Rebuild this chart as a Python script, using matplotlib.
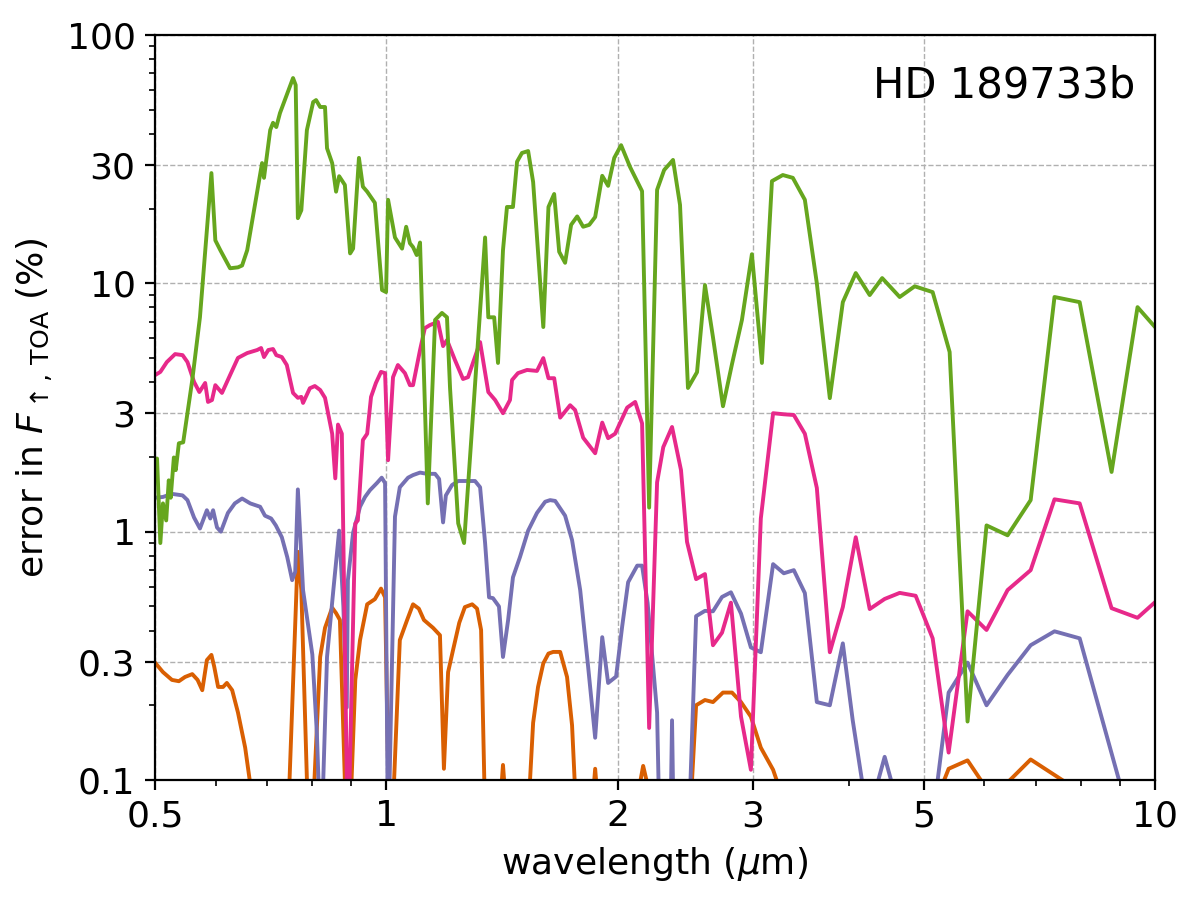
import matplotlib
matplotlib.use("Agg")
import matplotlib.pyplot as plt
from matplotlib.ticker import FixedLocator, FixedFormatter, LogLocator, NullFormatter

# wavelength (um) / error (%), values < 0.1 fall below the axis
green_x = [0.500, 0.503, 0.508, 0.512, 0.517, 0.521, 0.524, 0.529, 0.532, 0.537,
           0.544, 0.551, 0.559, 0.572, 0.592, 0.599, 0.608, 0.626, 0.641, 0.649,
           0.659, 0.689, 0.693, 0.706, 0.712, 0.719, 0.727, 0.756, 0.762, 0.767,
           0.775, 0.788, 0.803, 0.810, 0.820, 0.832, 0.837, 0.850, 0.860, 0.868,
           0.883, 0.897, 0.905, 0.921, 0.932, 0.944, 0.966, 0.987, 0.999, 1.005,
           1.026, 1.048, 1.061, 1.073, 1.083, 1.095, 1.106, 1.132, 1.157, 1.181,
           1.199, 1.210, 1.240, 1.262, 1.300, 1.344, 1.357, 1.381, 1.397, 1.418,
           1.435, 1.461, 1.479, 1.501, 1.529, 1.552, 1.600, 1.625, 1.653, 1.678,
           1.708, 1.739, 1.771, 1.803, 1.836, 1.869, 1.909, 1.943, 1.979, 2.020,
           2.075, 2.151, 2.197, 2.250, 2.298, 2.360, 2.410, 2.468, 2.536, 2.597,
           2.660, 2.741, 2.816, 2.901, 2.989, 3.080, 3.174, 3.279, 3.379, 3.503,
           3.631, 3.775, 3.925, 4.080, 4.254, 4.416, 4.654, 4.868, 5.137, 5.405,
           5.703, 6.037, 6.43, 6.89, 7.40, 7.98, 8.78, 9.49, 10.0]
green_y = [1.97, 1.97, 0.90, 1.30, 1.11, 1.61, 1.37, 1.99, 1.77, 2.27,
           2.29, 3.0, 4.08, 7.3, 27.8, 14.9, 13.6, 11.5, 11.6, 11.8,
           13.6, 30.5, 26.6, 41.4, 44.3, 42.6, 48.5, 67.1, 62.9, 18.3,
           19.7, 41.4, 53.7, 54.7, 51.3, 51.3, 35.0, 30.5, 23.4, 27.0,
           24.9, 13.2, 13.8, 32.0, 24.5, 23.4, 21.1, 9.40, 9.22, 21.7,
           15.3, 13.8, 16.9, 14.5, 14.0, 13.0, 14.6, 1.30, 7.12, 7.6,
           7.3, 3.79, 1.08, 0.90, 3.39, 15.3, 7.3, 7.3, 4.78, 13.6,
           20.3, 20.3, 30.9, 33.5, 34.1, 25.6, 6.67, 20.3, 22.9, 13.4,
           12.1, 17.2, 18.6, 16.9, 17.2, 18.5, 27.1, 24.7, 32.0, 36.0,
           29.4, 23.5, 1.25, 23.8, 28.6, 31.4, 20.7, 3.79, 4.39, 9.84,
           6.07, 3.20, 4.73, 7.12, 13.1, 4.78, 25.8, 27.3, 26.6, 21.7,
           10.0, 3.45, 8.40, 11.0, 8.97, 10.5, 8.81, 9.73, 9.22, 5.29,
           0.172, 1.06, 0.967, 1.34, 8.81, 8.40, 1.74, 8.02, 6.67]

pink_x = [0.500, 0.508, 0.518, 0.531, 0.543, 0.551, 0.562, 0.571, 0.581, 0.586,
          0.593, 0.599, 0.611, 0.626, 0.641, 0.659, 0.679, 0.687, 0.693, 0.702,
          0.712, 0.719, 0.731, 0.742, 0.756, 0.767, 0.775, 0.779, 0.795, 0.807,
          0.820, 0.832, 0.850, 0.858, 0.865, 0.875, 0.891, 0.911, 0.918, 0.932,
          0.944, 0.955, 0.969, 0.984, 0.996, 1.005, 1.020, 1.035, 1.057, 1.073,
          1.083, 1.106, 1.122, 1.139, 1.167, 1.185, 1.199, 1.228, 1.258, 1.277,
          1.324, 1.357, 1.385, 1.418, 1.448, 1.457, 1.483, 1.524, 1.570, 1.600,
          1.625, 1.653, 1.683, 1.734, 1.760, 1.803, 1.869, 1.909, 1.943, 1.984,
          2.057, 2.107, 2.151, 2.197, 2.250, 2.292, 2.353, 2.417, 2.461, 2.529,
          2.597, 2.660, 2.733, 2.807, 2.893, 2.980, 3.070, 3.185, 3.289, 3.389,
          3.503, 3.631, 3.775, 3.925, 4.080, 4.254, 4.449, 4.654, 4.882, 5.137,
          5.389, 5.703, 6.037, 6.43, 6.89, 7.40, 7.98, 8.78, 9.49, 10.0]
pink_y = [4.27, 4.40, 4.82, 5.19, 5.14, 4.82, 4.01, 3.65, 3.97, 3.33,
          3.39, 3.89, 3.62, 4.27, 5.01, 5.24, 5.39, 5.49, 5.05, 5.39,
          5.44, 5.14, 5.05, 4.69, 3.62, 3.46, 3.49, 3.30, 3.78, 3.86,
          3.72, 3.46, 2.48, 1.64, 2.7, 2.48, 0.05, 1.08, 1.11, 2.34,
          2.48, 3.49, 3.97, 4.40, 4.35, 1.94, 4.19, 4.69, 4.35, 3.89,
          3.89, 5.39, 6.6, 6.79, 7.0, 5.59, 5.91, 4.91, 4.12, 4.19,
          5.80, 3.65, 3.39, 3.0, 3.39, 4.08, 4.35, 4.48, 4.44, 5.0,
          4.15, 4.15, 2.88, 3.23, 3.09, 2.39, 2.07, 2.75, 2.38, 2.48,
          3.16, 3.33, 2.73, 0.162, 1.58, 2.19, 2.64, 1.77, 0.91, 0.644,
          0.675, 0.349, 0.392, 0.518, 0.180, 0.110, 1.13, 3.0, 2.97, 2.95,
          2.48, 1.50, 0.327, 0.497, 0.95, 0.488, 0.536, 0.567, 0.552, 0.372,
          0.129, 0.478, 0.402, 0.582, 0.70, 1.35, 1.30, 0.492, 0.45, 0.52]

purple_x = [0.500, 0.512, 0.526, 0.543, 0.551, 0.562, 0.572, 0.584, 0.590, 0.595,
            0.602, 0.609, 0.622, 0.635, 0.649, 0.665, 0.685, 0.695, 0.708, 0.718,
            0.731, 0.743, 0.754, 0.761, 0.767, 0.779, 0.801, 0.812, 0.822, 0.837,
            0.853, 0.868, 0.879, 0.888, 0.891, 0.905, 0.924, 0.938, 0.952, 0.972,
            0.986, 0.996, 1.005, 1.026, 1.041, 1.067, 1.083, 1.106, 1.129, 1.157,
            1.171, 1.185, 1.195, 1.217, 1.240, 1.304, 1.324, 1.344, 1.360, 1.376,
            1.401, 1.418, 1.440, 1.461, 1.492, 1.529, 1.570, 1.609, 1.633, 1.658,
            1.708, 1.744, 1.787, 1.830, 1.869, 1.909, 1.943, 1.990, 2.026, 2.063,
            2.120, 2.151, 2.187, 2.250, 2.270, 2.339, 2.353, 2.367, 2.468, 2.529,
            2.597, 2.660, 2.733, 2.807, 2.893, 2.980, 3.070, 3.185, 3.289, 3.389,
            3.503, 3.631, 3.775, 3.925, 4.043, 4.23, 4.449, 4.68, 5.14, 5.389,
            5.703, 6.037, 6.43, 6.89, 7.40, 7.98, 10.0]
purple_y = [1.37, 1.38, 1.42, 1.40, 1.34, 1.14, 1.03, 1.22, 1.13, 1.22,
            1.04, 1.00, 1.19, 1.30, 1.36, 1.30, 1.26, 1.16, 1.13, 1.06,
            0.95, 0.79, 0.638, 0.69, 1.48, 0.582, 0.32, 0.154, 0.05, 0.313,
            0.582, 1.01, 0.50, 0.196, 0.638, 0.99, 1.26, 1.38, 1.47, 1.57,
            1.65, 1.57, 0.05, 1.15, 1.51, 1.65, 1.69, 1.73, 1.71, 1.71,
            1.63, 1.09, 1.40, 1.54, 1.60, 1.60, 1.51, 0.90, 0.544, 0.54,
            0.50, 0.313, 0.441, 0.655, 0.79, 1.01, 1.19, 1.32, 1.34, 1.33,
            1.16, 0.925, 0.582, 0.286, 0.148, 0.376, 0.246, 0.261, 0.413, 0.626,
            0.73, 0.73, 0.516, 0.187, 0.05, 0.05, 0.174, 0.05, 0.05, 0.457,
            0.48, 0.478, 0.546, 0.57, 0.468, 0.342, 0.327, 0.74, 0.68, 0.70,
            0.566, 0.206, 0.200, 0.355, 0.174, 0.07, 0.124, 0.07, 0.07, 0.225,
            0.297, 0.200, 0.265, 0.349, 0.397, 0.372, 0.03]

orange_x = [0.500, 0.512, 0.526, 0.537, 0.547, 0.559, 0.568, 0.576, 0.584, 0.592,
            0.597, 0.604, 0.613, 0.620, 0.630, 0.641, 0.655, 0.685, 0.742, 0.767,
            0.775, 0.795, 0.820, 0.832, 0.850, 0.860, 0.870, 0.891, 0.911, 0.924,
            0.944, 0.966, 0.984, 0.996, 1.011, 1.041, 1.064, 1.083, 1.102, 1.119,
            1.150, 1.174, 1.188, 1.203, 1.221, 1.244, 1.265, 1.293, 1.312, 1.328,
            1.352, 1.397, 1.418, 1.440, 1.524, 1.552, 1.575, 1.600, 1.625, 1.648,
            1.683, 1.718, 1.744, 1.776, 1.847, 1.869, 1.891, 2.113, 2.158, 2.216,
            2.468, 2.529, 2.597, 2.660, 2.741, 2.816, 2.893, 2.980, 3.070, 3.185,
            3.299, 5.168, 5.389, 5.703, 6.00, 6.37, 6.89, 7.98, 10.0]
orange_y = [0.297, 0.272, 0.253, 0.25, 0.26, 0.267, 0.253, 0.230, 0.304, 0.319,
            0.286, 0.237, 0.237, 0.246, 0.230, 0.187, 0.135, 0.05, 0.05, 0.83,
            0.582, 0.04, 0.313, 0.41, 0.494, 0.47, 0.441, 0.04, 0.253, 0.366,
            0.51, 0.535, 0.59, 0.544, 0.04, 0.366, 0.441, 0.51, 0.49, 0.441,
            0.41, 0.383, 0.111, 0.272, 0.334, 0.43, 0.497, 0.51, 0.49, 0.402,
            0.03, 0.06, 0.115, 0.06, 0.06, 0.17, 0.237, 0.295, 0.323, 0.328,
            0.328, 0.26, 0.166, 0.05, 0.07, 0.111, 0.07, 0.08, 0.114, 0.08,
            0.05, 0.20, 0.21, 0.206, 0.225, 0.225, 0.206, 0.180, 0.135, 0.110,
            0.08, 0.08, 0.111, 0.12, 0.095, 0.095, 0.121, 0.09, 0.06]

x_ticks = [0.5, 1, 2, 3, 5, 10]
x_labels = ['0.5', '1', '2', '3', '5', '10']
y_ticks = [0.1, 0.3, 1, 3, 10, 30, 100]
y_labels = ['0.1', '0.3', '1', '3', '10', '30', '100']

fig = plt.figure(figsize=(6, 4.5), dpi=200)
ax = fig.add_axes([0.1292, 0.1333, 0.8333, 0.8278])

lw = 1.4
ax.plot(orange_x, orange_y, color='#d95f02', lw=lw)
ax.plot(purple_x, purple_y, color='#7570b3', lw=lw)
ax.plot(pink_x, pink_y, color='#e7298a', lw=lw)
ax.plot(green_x, green_y, color='#66a61e', lw=lw)

ax.set_xscale('log')
ax.set_yscale('log')
ax.set_xlim(0.5, 10)
ax.set_ylim(0.1, 100)

ax.xaxis.set_major_locator(FixedLocator(x_ticks))
ax.xaxis.set_major_formatter(FixedFormatter(x_labels))
ax.xaxis.set_minor_locator(LogLocator(base=10, subs=range(2, 10)))
ax.xaxis.set_minor_formatter(NullFormatter())
ax.yaxis.set_major_locator(FixedLocator(y_ticks))
ax.yaxis.set_major_formatter(FixedFormatter(y_labels))
ax.yaxis.set_minor_locator(LogLocator(base=10, subs=range(2, 10)))
ax.yaxis.set_minor_formatter(NullFormatter())
ax.tick_params(which='major', labelsize=13)

ax.grid(True, which='major', ls='--', lw=0.5, color='#b0b0b0')
ax.set_axisbelow(True)

ax.set_xlabel(r'wavelength ($\mu$m)', fontsize=13)
ax.set_ylabel(r'error in $F_{\uparrow,\,\mathrm{TOA}}$ (%)', fontsize=13)
ax.text(0.98, 0.96, 'HD 189733b', transform=ax.transAxes, ha='right', va='top', fontsize=15)

fig.savefig('out.png', dpi=200)
